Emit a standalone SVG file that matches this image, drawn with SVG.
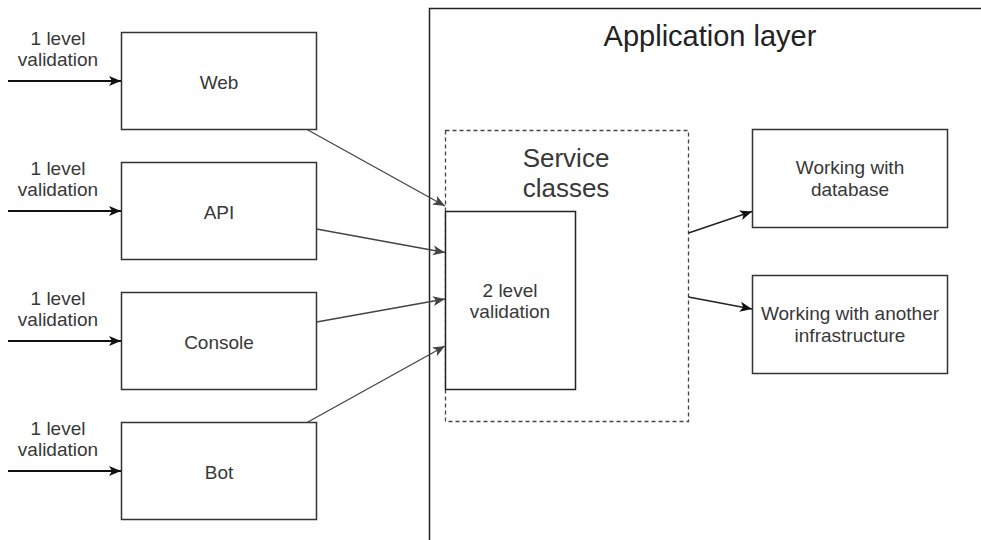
<svg xmlns="http://www.w3.org/2000/svg" width="981" height="540" viewBox="0 0 981 540">
<defs>
<marker id="arr" markerUnits="userSpaceOnUse" markerWidth="13" markerHeight="11" refX="12" refY="5" orient="auto" viewBox="0 0 13 10">
<path d="M0,0 L12,5 L0,10 L3,5 z" fill="#111"/>
</marker>
<marker id="arrg" markerUnits="userSpaceOnUse" markerWidth="13" markerHeight="11" refX="12" refY="5" orient="auto" viewBox="0 0 13 10">
<path d="M0,0 L12,5 L0,10 L3,5 z" fill="#444"/>
</marker>
<style>
text{font-family:"Liberation Sans",Arial,sans-serif;fill:#383838;text-anchor:middle}
.t19{font-size:19px}
.box{fill:#fff;stroke:#333;stroke-width:1.5}
.in{stroke:#111;stroke-width:1.8;fill:none;marker-end:url(#arr)}
.c{stroke:#444;stroke-width:1.3;fill:none;marker-end:url(#arrg)}
.cr{stroke:#222;stroke-width:1.5;fill:none;marker-end:url(#arr)}
</style>
</defs>
<rect width="981" height="540" fill="#fff"/>

<g id="app-layer">
<rect x="429.5" y="8.5" width="600" height="600" fill="none" stroke="#222" stroke-width="1.5"/>
<text x="710" y="46" style="font-size:29px;fill:#222">Application layer</text>
</g>

<g id="service-classes">
<rect x="445.5" y="130.5" width="243" height="291" fill="none" stroke="#444" stroke-width="1.3" stroke-dasharray="4 3"/>
<text x="566" y="167" style="font-size:26px">Service</text>
<text x="566" y="197" style="font-size:26px">classes</text>
</g>

<g id="validation2">
<rect x="445.5" y="211.5" width="130" height="178" fill="#fff" stroke="#222" stroke-width="1.5"/>
<text class="t19" x="510" y="297">2 level</text>
<text class="t19" x="510" y="318">validation</text>
</g>

<g id="web">
<rect class="box" x="121.5" y="32.5" width="195" height="97"/>
<text class="t19" x="219" y="89">Web</text>
</g>
<g id="api">
<rect class="box" x="121.5" y="162.5" width="195" height="97"/>
<text class="t19" x="219" y="219">API</text>
</g>
<g id="console">
<rect class="box" x="121.5" y="292.5" width="195" height="97"/>
<text class="t19" x="219" y="349">Console</text>
</g>
<g id="bot">
<rect class="box" x="121.5" y="422.5" width="195" height="97"/>
<text class="t19" x="219" y="479">Bot</text>
</g>

<g id="database">
<rect class="box" x="752.5" y="129.5" width="195" height="98"/>
<text class="t19" x="850" y="174">Working with</text>
<text class="t19" x="850" y="196">database</text>
</g>
<g id="infrastructure">
<rect class="box" x="752.5" y="275.5" width="195" height="98"/>
<text class="t19" x="850" y="320">Working with another</text>
<text class="t19" x="850" y="342">infrastructure</text>
</g>

<g id="labels">
<text class="t19" x="58" y="45">1 level</text>
<text class="t19" x="58" y="66">validation</text>
<text class="t19" x="58" y="175">1 level</text>
<text class="t19" x="58" y="196">validation</text>
<text class="t19" x="58" y="305">1 level</text>
<text class="t19" x="58" y="326">validation</text>
<text class="t19" x="58" y="435">1 level</text>
<text class="t19" x="58" y="456">validation</text>
</g>

<g id="connectors">
<line class="in" x1="8" y1="81" x2="121" y2="81"/>
<line class="in" x1="8" y1="211" x2="121" y2="211"/>
<line class="in" x1="8" y1="341" x2="121" y2="341"/>
<line class="in" x1="8" y1="471" x2="121" y2="471"/>
<line class="c" x1="307" y1="129.5" x2="445" y2="206"/>
<line class="c" x1="316.5" y1="229" x2="445" y2="252.5"/>
<line class="c" x1="316.5" y1="322" x2="445" y2="299"/>
<line class="c" x1="307" y1="422.5" x2="445" y2="346"/>
<line class="cr" x1="688.5" y1="233" x2="752" y2="211.5"/>
<line class="cr" x1="688.5" y1="297" x2="752" y2="309"/>
</g>
</svg>
